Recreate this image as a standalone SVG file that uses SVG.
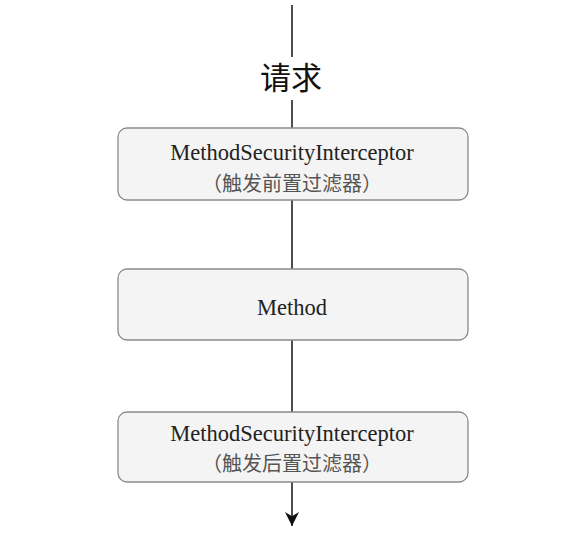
<svg xmlns="http://www.w3.org/2000/svg" width="583" height="538" viewBox="0 0 583 538">
<defs>
<style>
.box{fill:#f4f4f4;stroke:#8a8a8a;stroke-width:1.3}
.en{font-family:"Liberation Serif","DejaVu Serif",serif;font-size:22.5px;fill:#222;text-anchor:middle}
.zh{font-family:"Noto Sans CJK SC",sans-serif;font-size:20px;fill:#555;text-anchor:middle}
.line{stroke:#222;stroke-width:1.6;fill:none}
</style>
<marker id="arr" viewBox="0 0 10 10" refX="10" refY="5" markerWidth="15" markerHeight="14" markerUnits="userSpaceOnUse" orient="auto">
<path d="M0,0 L10,5 L0,10 L3,5 Z" fill="#111"/>
</marker>
</defs>
<rect width="583" height="538" fill="#fff"/>
<g id="connectors">
<line class="line" x1="292" y1="5" x2="292" y2="57"/>
<line class="line" x1="292" y1="100" x2="292" y2="128"/>
<line class="line" x1="292" y1="200" x2="292" y2="269"/>
<line class="line" x1="292" y1="340" x2="292" y2="412"/>
<line class="line" x1="292" y1="482" x2="292" y2="526" marker-end="url(#arr)"/>
</g>
<g id="label-request">
<text x="291" y="89" font-family="Noto Sans CJK SC,sans-serif" font-size="31" fill="#111" text-anchor="middle">请求</text>
</g>
<g id="node-pre">
<rect class="box" x="118" y="128" width="350" height="72" rx="9"/>
<text class="en" x="292" y="160">MethodSecurityInterceptor</text>
<text class="zh" x="292" y="191">（触发前置过滤器）</text>
</g>
<g id="node-method">
<rect class="box" x="118" y="269" width="350" height="71" rx="9"/>
<text class="en" x="292" y="315">Method</text>
</g>
<g id="node-post">
<rect class="box" x="118" y="412" width="350" height="70" rx="9"/>
<text class="en" x="292" y="441">MethodSecurityInterceptor</text>
<text class="zh" x="292" y="471">（触发后置过滤器）</text>
</g>
</svg>
